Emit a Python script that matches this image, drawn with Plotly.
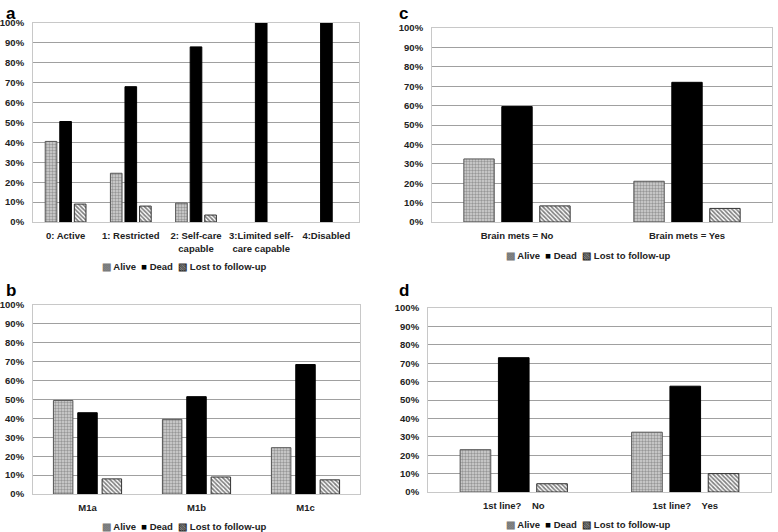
import plotly.graph_objects as go
from plotly.subplots import make_subplots

W, H = 778, 532

series = ["Alive", "Dead", "Lost to follow-up"]

cats_a = ["0: Active", "1: Restricted", "2: Self-care<br>capable", "3:Limited self-<br>care capable", "4:Disabled"]
alive_a = [40.5, 24.5, 9.5, 0, 0]
dead_a = [50.5, 68, 88, 100, 100]
lost_a = [9, 8, 3.5, 0, 0]

cats_b = ["M1a", "M1b", "M1c"]
alive_b = [49.5, 39.5, 24.5]
dead_b = [43, 51.5, 68.5]
lost_b = [8, 9, 7.5]

cats_c = ["Brain mets = No", "Brain mets = Yes"]
alive_c = [32.5, 21]
dead_c = [59.5, 72]
lost_c = [8.3, 7]

cats_d = ["1st line?\u00a0\u00a0\u00a0\u00a0No", "1st line?\u00a0\u00a0\u00a0\u00a0Yes"]
alive_d = [23, 32.5]
dead_d = [73, 57.5]
lost_d = [4.5, 10]

yticks = list(range(0, 101, 10))
ytext = [f"{v}%" for v in yticks]

FONT = "Liberation Sans"
FS = 9.5

def px_dom_x(a, b):
    return [a / W, b / W]

def px_dom_y(top, bottom):
    return [1 - bottom / H, 1 - top / H]

fig = make_subplots(rows=2, cols=2)

def line_widths(vals):
    return [1 if v > 0 else 0 for v in vals]

panels = [
    (1, 1, cats_a, [alive_a, dead_a, lost_a]),
    (2, 1, cats_b, [alive_b, dead_b, lost_b]),
    (1, 2, cats_c, [alive_c, dead_c, lost_c]),
    (2, 2, cats_d, [alive_d, dead_d, lost_d]),
]

for r, c, cats, vals in panels:
    a, d, l = vals
    fig.add_trace(go.Bar(x=cats, y=a, name=series[0], showlegend=False,
                         marker=dict(color="#cfcfcf",
                                     pattern=dict(shape=".", fgcolor="#5a5a5a", bgcolor="#d4d4d4",
                                                  size=3, solidity=0.5, fillmode="overlay"),
                                     line=dict(color="#555555", width=line_widths(a)))),
                  row=r, col=c)
    fig.add_trace(go.Bar(x=cats, y=d, name=series[1], showlegend=False,
                         marker=dict(color="black", line=dict(color="black", width=line_widths(d)))),
                  row=r, col=c)
    fig.add_trace(go.Bar(x=cats, y=l, name=series[2], showlegend=False,
                         marker=dict(color="white",
                                     pattern=dict(shape="\\", fgcolor="black", bgcolor="white",
                                                  size=3, solidity=0.55, fillmode="overlay"),
                                     line=dict(color="#333333", width=line_widths(l)))),
                  row=r, col=c)

doms = {
    (1, 1): (px_dom_x(33, 359), px_dom_y(23, 222)),
    (2, 1): (px_dom_x(33, 360), px_dom_y(305, 494)),
    (1, 2): (px_dom_x(432, 772), px_dom_y(28, 222)),
    (2, 2): (px_dom_x(428, 771), px_dom_y(308, 492)),
}
axis_ids = {(1, 1): "", (1, 2): "2", (2, 1): "3", (2, 2): "4"}

tickfont = dict(family=FONT, size=FS, color="#222222", weight="bold")
for (r, c), (dx, dy) in doms.items():
    i = axis_ids[(r, c)]
    fig.layout["xaxis" + i].update(domain=dx, showgrid=False, tickfont=tickfont,
                                   showline=True, linecolor="#c8c8c8", mirror=True,
                                   ticks="", tickangle=0, automargin=False,
                                   ticklabelstandoff=5)
    fig.layout["yaxis" + i].update(domain=dy, range=[0, 100], tickvals=yticks, ticktext=ytext,
                                   showgrid=True, gridcolor="#a0a0a0", gridwidth=1,
                                   showline=True, linecolor="#c8c8c8", mirror=True,
                                   zeroline=False, tickfont=tickfont, ticks="",
                                   automargin=False, ticklabelstandoff=6)

fig.update_layout(
    width=W, height=H, margin=dict(l=0, r=0, t=0, b=0, autoexpand=False),
    paper_bgcolor="white", plot_bgcolor="white",
    barmode="group", bargap=0.33, bargroupgap=0.2,
    font=dict(family=FONT, color="#222222"),
    showlegend=False,
)

legend_text = ("<span style='color:#7a7a7a'>\u25a9</span> Alive\u00a0\u00a0"
               "<span style='color:black'>\u25a0</span> Dead\u00a0\u00a0"
               "<span style='color:#333'>\u25a7</span> Lost to follow-up")
legend_pos = [(184, 266), (184, 526), (588, 255), (588, 524)]
for x, y in legend_pos:
    fig.add_annotation(text=legend_text, x=x / W, y=1 - y / H, xref="paper", yref="paper",
                       xanchor="center", yanchor="middle", showarrow=False,
                       font=dict(family=FONT, size=FS, color="#222222", weight="bold"))

letters = [("a", 4, 2), ("b", 4, 279), ("c", 397, 2), ("d", 397, 279)]
for t, x, y in letters:
    fig.add_annotation(text=t, x=x / W, y=1 - y / H, xref="paper", yref="paper",
                       xanchor="left", yanchor="top", showarrow=False,
                       font=dict(family=FONT, size=17, color="black", weight="bold"))

fig.write_html("out.html", config={"displayModeBar": False},
               post_script="document.body.style.margin='0';document.body.style.overflow='hidden';")
